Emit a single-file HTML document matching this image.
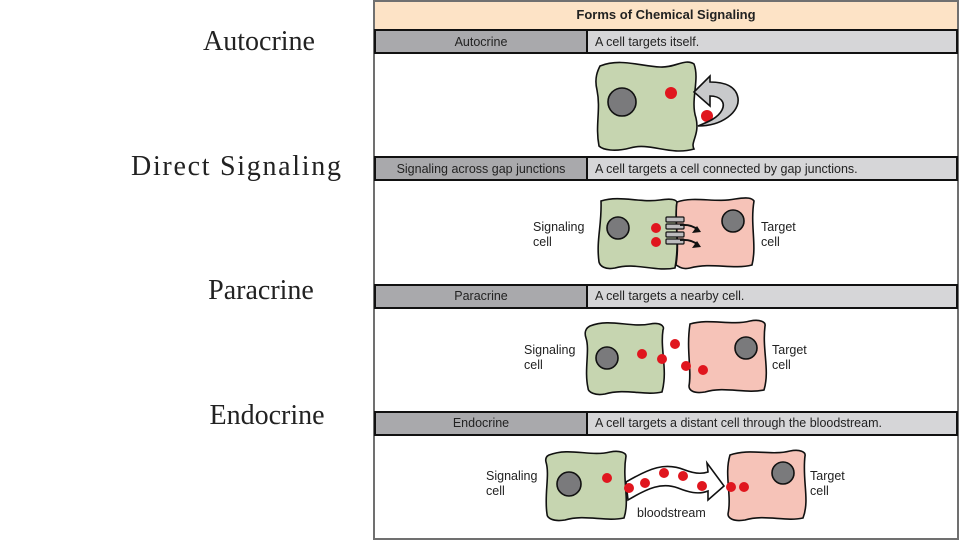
<!DOCTYPE html>
<html><head><meta charset="utf-8"><style>
html,body{margin:0;padding:0;background:#fff;}
svg{display:block;}
.s{font-family:"Liberation Serif",serif;font-size:28px;fill:#222;}
.l{font-family:"Liberation Sans",sans-serif;font-size:12.5px;fill:#222;}
.h{font-family:"Liberation Sans",sans-serif;font-size:12.5px;fill:#222;}
.g{fill:#c6d5b0;stroke:#111;stroke-width:1.6;}
.p{fill:#f6c3b8;stroke:#111;stroke-width:1.6;}
.n{fill:#7a7a7c;stroke:#111;stroke-width:1.6;}
.r{fill:#e0161e;}
</style></head><body>
<svg width="960" height="540" viewBox="0 0 960 540" xmlns="http://www.w3.org/2000/svg">
<text class="s" x="259" y="50" text-anchor="middle">Autocrine</text>
<text class="s" x="131" y="175" textLength="210">Direct Signaling</text>
<text class="s" x="261" y="299" text-anchor="middle">Paracrine</text>
<text class="s" x="267" y="424" text-anchor="middle">Endocrine</text>

<rect x="374" y="1" width="584" height="538" fill="#fff" stroke="#707070" stroke-width="2"/>
<rect x="375" y="2" width="582" height="27" fill="#fde3c6"/>
<text x="666" y="19" text-anchor="middle" font-family="Liberation Sans,sans-serif" font-size="13" font-weight="bold" fill="#222">Forms of Chemical Signaling</text>

<g stroke="#111" stroke-width="2">
<rect x="375" y="30" width="212" height="23" fill="#a9a9ac"/><rect x="587" y="30" width="370" height="23" fill="#d6d6d8"/>
<rect x="375" y="157" width="212" height="23" fill="#a9a9ac"/><rect x="587" y="157" width="370" height="23" fill="#d6d6d8"/>
<rect x="375" y="285" width="212" height="23" fill="#a9a9ac"/><rect x="587" y="285" width="370" height="23" fill="#d6d6d8"/>
<rect x="375" y="412" width="212" height="23" fill="#a9a9ac"/><rect x="587" y="412" width="370" height="23" fill="#d6d6d8"/>
</g>
<text class="h" x="481" y="46" text-anchor="middle">Autocrine</text><text class="h" x="595" y="46">A cell targets itself.</text>
<text class="h" x="481" y="173" text-anchor="middle">Signaling across gap junctions</text><text class="h" x="595" y="173">A cell targets a cell connected by gap junctions.</text>
<text class="h" x="481" y="300" text-anchor="middle">Paracrine</text><text class="h" x="595" y="300">A cell targets a nearby cell.</text>
<text class="h" x="481" y="427" text-anchor="middle">Endocrine</text><text class="h" x="595" y="427">A cell targets a distant cell through the bloodstream.</text>

<!-- Autocrine -->
<path class="g" d="M600,66 C620,58 640,66 660,67 C675,68 685,58 694,64 C700,80 690,100 696,118 C700,135 690,142 694,149 C670,156 650,142 630,148 C615,152 603,150 599,146 C595,125 601,110 597,90 C594,78 598,70 600,66Z"/>
<circle class="n" cx="622" cy="102" r="14"/>
<circle class="r" cx="671" cy="93" r="6"/>
<circle class="r" cx="707" cy="116" r="6"/>
<path d="M698,126 C722,126 740,112 738,98 C736,86 724,82 710,82 L710,76 L694,92 L710,106 L710,96 C720,96 726,102 722,110 C718,118 708,122 698,126Z" fill="#c8c9cb" stroke="#111" stroke-width="1.6"/>

<!-- Gap junction -->
<path class="g" d="M601,201 C620,195 640,203 660,200 C672,198 676,200 677,202 C674,220 680,240 675,268 C655,272 635,262 615,268 C605,270 600,266 599,262 C596,240 602,225 601,201Z"/>
<path class="p" d="M677,202 C695,196 715,203 735,199 C748,197 752,198 754,201 C750,225 757,245 752,265 C732,270 712,262 690,268 C682,270 678,266 676,265 C680,240 674,220 677,202Z"/>
<circle class="n" cx="618" cy="228" r="11"/>
<circle class="n" cx="733" cy="221" r="11"/>
<circle class="r" cx="656" cy="228" r="5"/>
<circle class="r" cx="656" cy="242" r="5"/>
<g fill="#bcbcbe" stroke="#111" stroke-width="1.2">
<rect x="666" y="217" width="18" height="5" rx="1"/><rect x="666" y="224" width="18" height="5" rx="1"/>
<rect x="666" y="232" width="18" height="5" rx="1"/><rect x="666" y="239" width="18" height="5" rx="1"/>
</g>
<g stroke="#111" stroke-width="2" fill="none">
<path d="M680,225 Q692,224 698,230"/><path d="M680,240 Q692,239 698,245"/>
</g>
<path d="M701,232 L692,233 L697,226Z M701,247 L692,248 L697,241Z" fill="#111"/>
<text class="l" x="533" y="231">Signaling</text><text class="l" x="533" y="246">cell</text>
<text class="l" x="761" y="231">Target</text><text class="l" x="761" y="246">cell</text>

<!-- Paracrine -->
<path class="g" d="M590,326 C610,318 630,328 650,324 C660,322 665,326 663,330 C660,350 668,370 662,392 C645,396 625,388 605,394 C595,396 588,392 588,388 C584,370 590,350 586,338 C584,332 586,328 590,326Z"/>
<path class="p" d="M690,324 C710,318 730,326 750,321 C760,319 766,322 765,326 C762,350 770,370 764,390 C745,394 725,386 705,392 C693,394 689,390 689,386 C692,370 686,350 690,324Z"/>
<circle class="n" cx="607" cy="358" r="11"/>
<circle class="n" cx="746" cy="348" r="11"/>
<circle class="r" cx="642" cy="354" r="5"/><circle class="r" cx="662" cy="359" r="5"/>
<circle class="r" cx="675" cy="344" r="5"/><circle class="r" cx="686" cy="366" r="5"/>
<circle class="r" cx="703" cy="370" r="5"/>
<text class="l" x="524" y="354">Signaling</text><text class="l" x="524" y="369">cell</text>
<text class="l" x="772" y="354">Target</text><text class="l" x="772" y="369">cell</text>

<!-- Endocrine -->
<path class="g" d="M549,455 C570,447 590,457 610,452 C620,450 626,453 626,456 C622,480 630,500 624,518 C605,522 585,514 565,520 C553,522 547,518 547,514 C544,495 550,475 546,462 C545,458 547,456 549,455Z"/>
<path class="p" d="M730,455 C750,448 770,456 790,451 C800,449 806,452 805,456 C802,480 810,500 803,518 C785,522 765,514 745,520 C733,522 728,518 728,514 C732,495 724,475 730,455Z"/>
<circle class="n" cx="569" cy="484" r="12"/>
<circle class="n" cx="783" cy="473" r="11"/>
<circle class="r" cx="607" cy="478" r="5"/>
<path d="M626,482 C650,468 665,462 685,470 C695,474 702,474 708,472 L707,463 L724,486 L708,500 L708,491 C698,495 688,492 678,488 C662,482 648,488 628,500Z" fill="#fff" stroke="#111" stroke-width="1.6"/>
<circle class="r" cx="629" cy="488" r="5"/><circle class="r" cx="645" cy="483" r="5"/>
<circle class="r" cx="664" cy="473" r="5"/><circle class="r" cx="683" cy="476" r="5"/>
<circle class="r" cx="702" cy="486" r="5"/>
<circle class="r" cx="731" cy="487" r="5"/><circle class="r" cx="744" cy="487" r="5"/>
<text class="l" x="637" y="517">bloodstream</text>
<text class="l" x="486" y="480">Signaling</text><text class="l" x="486" y="495">cell</text>
<text class="l" x="810" y="480">Target</text><text class="l" x="810" y="495">cell</text>
</svg>
</body></html>
